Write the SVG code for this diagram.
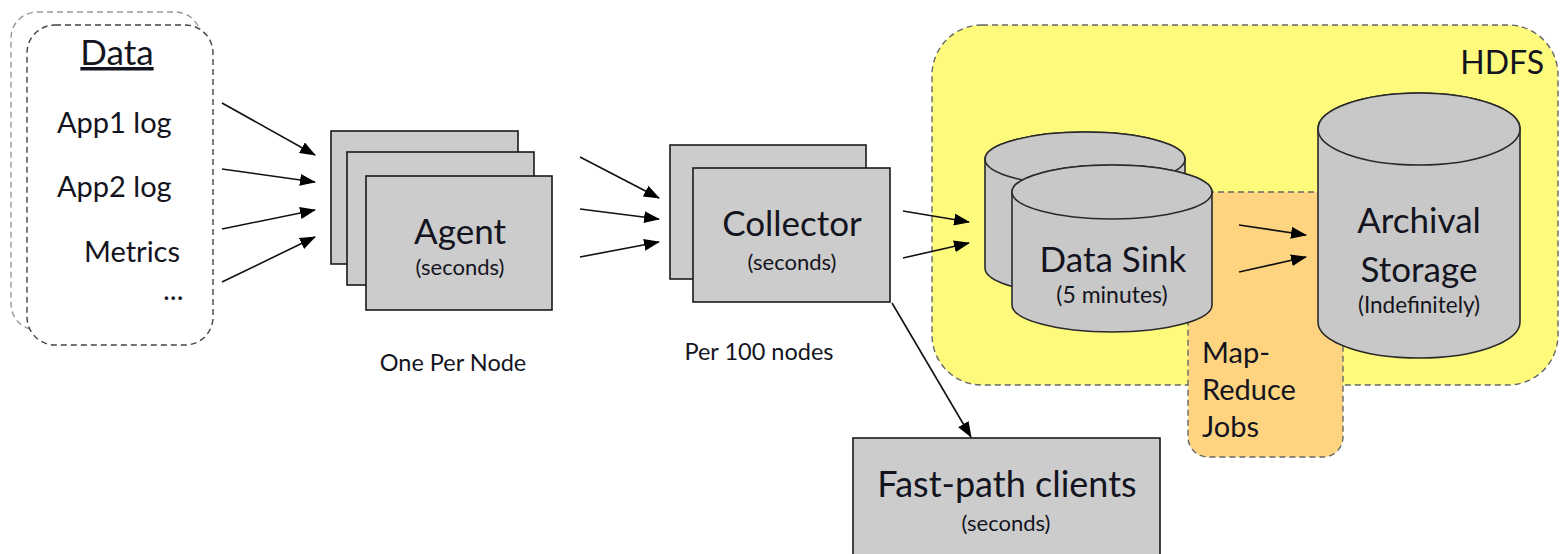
<svg xmlns="http://www.w3.org/2000/svg" width="1561" height="554" viewBox="0 0 1561 554">
<style>
.t{font-family:Lato,"Open Sans","Liberation Sans",sans-serif;fill:#141420}
.box{fill:#cccccc;stroke:#1a1a1a;stroke-width:1.6}
.cyl{fill:#c8c8c8;stroke:#2a2a2a;stroke-width:1.6}
.conn line{stroke:#111;stroke-width:1.6;marker-end:url(#ah)}
</style>
<defs>
<marker id="ah" markerWidth="16" markerHeight="12" refX="15" refY="6" orient="auto" markerUnits="userSpaceOnUse">
<path d="M0,0 L16,6 L0,12 Z" fill="#000"/>
</marker>
</defs>
<rect width="1561" height="554" fill="#fff"/>

<g id="hdfs">
<rect x="932" y="25" width="626" height="360" rx="50" fill="#fefb7c" stroke="#666" stroke-width="1.4" stroke-dasharray="6,4"/>
<text class="t" x="1544" y="74" font-size="32" text-anchor="end">HDFS</text>
</g>

<g id="mapreduce">
<rect x="1188" y="192" width="155" height="265" rx="20" fill="#fed480" stroke="#666" stroke-width="1.4" stroke-dasharray="6,4"/>
<text class="t" x="1202" y="363" font-size="29">Map-</text>
<text class="t" x="1202" y="400" font-size="29">Reduce</text>
<text class="t" x="1202" y="437" font-size="29">Jobs</text>
</g>

<g id="data">
<rect x="11" y="12" width="190" height="318" rx="26" fill="#fff" stroke="#999" stroke-width="1.4" stroke-dasharray="6,4"/>
<rect x="27" y="25" width="186" height="320" rx="28" fill="#fff" stroke="#444" stroke-width="1.4" stroke-dasharray="6,4"/>
<text class="t" x="117" y="65" font-size="35" text-anchor="middle" text-decoration="underline">Data</text>
<text class="t" x="57" y="133" font-size="29">App1 log</text>
<text class="t" x="57" y="197" font-size="29">App2 log</text>
<text class="t" x="84" y="262" font-size="29">Metrics</text>
<text class="t" x="163" y="300" font-size="29">...</text>
</g>

<g id="agent">
<rect class="box" x="331" y="131" width="187" height="133"/>
<rect class="box" x="347" y="152" width="187" height="133"/>
<rect class="box" x="366" y="176" width="186" height="134"/>
<text class="t" x="460" y="244" font-size="35" text-anchor="middle">Agent</text>
<text class="t" x="460" y="275" font-size="22" text-anchor="middle">(seconds)</text>
<text class="t" x="453" y="371" font-size="23.5" text-anchor="middle">One Per Node</text>
</g>

<g id="collector">
<rect class="box" x="670" y="145" width="196" height="134"/>
<rect class="box" x="693" y="168" width="197" height="134"/>
<text class="t" x="792" y="236" font-size="35" text-anchor="middle">Collector</text>
<text class="t" x="792" y="270" font-size="22" text-anchor="middle">(seconds)</text>
<text class="t" x="759" y="360" font-size="23.5" text-anchor="middle">Per 100 nodes</text>
</g>

<g id="datasink">
<path class="cyl" d="M985,159 L985,268 A100,27 0 0 0 1185,268 L1185,159 A100,27 0 0 0 985,159 Z"/>
<ellipse class="cyl" cx="1085" cy="159" rx="100" ry="27"/>
<path class="cyl" d="M1012,192 L1012,305 A100,27 0 0 0 1212,305 L1212,192 A100,27 0 0 0 1012,192 Z"/>
<ellipse class="cyl" cx="1112" cy="192" rx="100" ry="27"/>
<text class="t" x="1113" y="272" font-size="35" text-anchor="middle">Data Sink</text>
<text class="t" x="1112" y="303" font-size="23" text-anchor="middle">(5 minutes)</text>
</g>

<g id="archival">
<path class="cyl" d="M1318,129 L1318,322 A101,36 0 0 0 1520,322 L1520,129 A101,36 0 0 0 1318,129 Z"/>
<ellipse class="cyl" cx="1419" cy="129" rx="101" ry="36"/>
<text class="t" x="1419" y="233" font-size="35" text-anchor="middle">Archival</text>
<text class="t" x="1419" y="282" font-size="35" text-anchor="middle">Storage</text>
<text class="t" x="1419" y="313" font-size="22.5" text-anchor="middle">(Indefinitely)</text>
</g>

<g id="fastpath">
<rect class="box" x="853" y="438" width="307" height="130"/>
<text class="t" x="1007" y="497" font-size="36" text-anchor="middle">Fast-path clients</text>
<text class="t" x="1006" y="531" font-size="22" text-anchor="middle">(seconds)</text>
</g>

<g id="connectors" class="conn">
<line x1="222" y1="103" x2="315" y2="155"/>
<line x1="222" y1="169" x2="315" y2="182"/>
<line x1="222" y1="229" x2="315" y2="210"/>
<line x1="222" y1="282" x2="315" y2="237"/>
<line x1="580" y1="157" x2="659" y2="198"/>
<line x1="580" y1="209" x2="659" y2="219"/>
<line x1="580" y1="257" x2="659" y2="242"/>
<line x1="903" y1="211" x2="969" y2="222"/>
<line x1="903" y1="258" x2="969" y2="243"/>
<line x1="892" y1="303" x2="971" y2="437"/>
<line x1="1239" y1="225" x2="1306" y2="235"/>
<line x1="1239" y1="272" x2="1306" y2="257"/>
</g>
</svg>
